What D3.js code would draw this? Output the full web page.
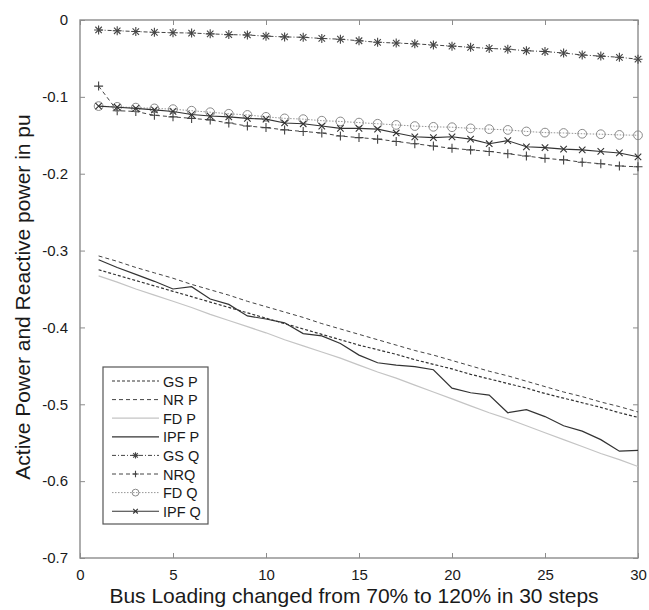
<!DOCTYPE html>
<html>
<head>
<meta charset="utf-8">
<script src="https://cdn.jsdelivr.net/npm/d3@7"></script>
<style>
  html, body { margin: 0; padding: 0; background: #fff; }
  svg { display: block; font-family: "Liberation Sans", Arial, sans-serif; }
</style>
</head>
<body>
<svg id="chart" width="649" height="610"></svg>
<script>
// ---------- DATA ----------
const steps = d3.range(1, 31);
const xTicks = [0, 5, 10, 15, 20, 25, 30];
const yTicks = [0, -0.1, -0.2, -0.3, -0.4, -0.5, -0.6, -0.7];

const gsP  = [-0.325, -0.332, -0.339, -0.346, -0.353, -0.360, -0.367, -0.374, -0.381, -0.388,
              -0.395, -0.402, -0.409, -0.416, -0.423, -0.429, -0.435, -0.442, -0.448, -0.454,
              -0.461, -0.467, -0.473, -0.479, -0.486, -0.492, -0.498, -0.504, -0.511, -0.517];
const nrP  = [-0.307, -0.314, -0.322, -0.329, -0.336, -0.344, -0.351, -0.358, -0.366, -0.373,
              -0.380, -0.387, -0.395, -0.402, -0.409, -0.416, -0.423, -0.430, -0.436, -0.443,
              -0.450, -0.457, -0.463, -0.470, -0.477, -0.484, -0.490, -0.497, -0.503, -0.510];
const fdP  = [-0.333, -0.341, -0.350, -0.358, -0.366, -0.374, -0.383, -0.391, -0.399, -0.407,
              -0.416, -0.424, -0.432, -0.440, -0.449, -0.458, -0.466, -0.475, -0.484, -0.493,
              -0.502, -0.511, -0.519, -0.528, -0.537, -0.546, -0.555, -0.564, -0.572, -0.581];
const ipfP = [-0.312, -0.322, -0.331, -0.340, -0.350, -0.347, -0.363, -0.370, -0.385, -0.389,
              -0.394, -0.408, -0.411, -0.421, -0.436, -0.446, -0.449, -0.451, -0.455, -0.479,
              -0.485, -0.488, -0.511, -0.507, -0.516, -0.528, -0.535, -0.546, -0.561, -0.560];
const gsQ  = [-0.013, -0.014, -0.015, -0.016, -0.0165, -0.017, -0.018, -0.019, -0.0195, -0.021,
              -0.022, -0.0225, -0.024, -0.025, -0.027, -0.029, -0.030, -0.031, -0.0325, -0.034,
              -0.0355, -0.037, -0.038, -0.040, -0.041, -0.043, -0.0455, -0.047, -0.0485, -0.051];
const nrQ  = [-0.086, -0.118, -0.119, -0.124, -0.126, -0.128, -0.130, -0.134, -0.138, -0.140,
              -0.143, -0.145, -0.147, -0.151, -0.153, -0.155, -0.158, -0.161, -0.164, -0.167,
              -0.169, -0.171, -0.174, -0.177, -0.180, -0.182, -0.185, -0.187, -0.190, -0.191];
const fdQ  = [-0.112, -0.113, -0.114, -0.115, -0.116, -0.118, -0.120, -0.122, -0.1235, -0.126,
              -0.128, -0.129, -0.131, -0.132, -0.1335, -0.135, -0.1365, -0.138, -0.139, -0.1395,
              -0.141, -0.142, -0.143, -0.145, -0.1465, -0.147, -0.148, -0.1486, -0.1495, -0.150];
const ipfQ = [-0.112, -0.1135, -0.115, -0.117, -0.119, -0.123, -0.125, -0.126, -0.128, -0.129,
              -0.134, -0.135, -0.138, -0.141, -0.141, -0.142, -0.147, -0.152, -0.153, -0.152,
              -0.155, -0.161, -0.157, -0.165, -0.166, -0.168, -0.169, -0.171, -0.173, -0.178];

const seriesNames = ["GS P", "NR P", "FD P", "IPF P", "GS Q", "NRQ", "FD Q", "IPF Q"];
const seriesValues = [gsP, nrP, fdP, ipfP, gsQ, nrQ, fdQ, ipfQ];

const xLabel = "Bus Loading changed from 70% to 120% in 30 steps";
const yLabel = "Active Power and Reactive power in pu";

// ---------- STYLES ----------
const styles = [
  { color: "#333",    dash: "3,2",   width: 1.2, marker: null },
  { color: "#444",    dash: "4,3",   width: 1.0, marker: null },
  { color: "#c4c4c4", dash: null,    width: 1.2, marker: null },
  { color: "#333",    dash: null,    width: 1.2, marker: null },
  { color: "#444",    dash: "4,2,1,2", width: 1.0, marker: "star" },
  { color: "#444",    dash: "4,3",   width: 1.0, marker: "plus" },
  { color: "#8a8a8a", dash: "1.5,1.5", width: 0.9, marker: "circle" },
  { color: "#333",    dash: null,    width: 1.1, marker: "cross" }
];

// ---------- LAYOUT ----------
const svg = d3.select("#chart");
const pLeft = 80, pRight = 638, pTop = 20, pBottom = 558;
const x = d3.scaleLinear().domain([0, 30]).range([pLeft, pRight]);
const y = d3.scaleLinear().domain([-0.7, 0]).range([pBottom, pTop]);
const axisColor = "#8c8c8c";
const textColor = "#1a1a1a";

// frame
svg.append("rect").attr("x", pLeft).attr("y", pTop)
  .attr("width", pRight - pLeft).attr("height", pBottom - pTop)
  .attr("fill", "none").attr("stroke", axisColor).attr("stroke-width", 1.4);

const fmtY = d => d === 0 ? "0" : d3.format(".1f")(d).replace("−", "-");

const gx = svg.append("g").attr("transform", `translate(0,${pBottom})`)
  .call(d3.axisBottom(x).tickValues(xTicks).tickSize(-5).tickPadding(11).tickFormat(d3.format("d")));
const gxt = svg.append("g").attr("transform", `translate(0,${pTop})`)
  .call(d3.axisTop(x).tickValues(xTicks).tickSize(-5).tickFormat(""));
const gy = svg.append("g").attr("transform", `translate(${pLeft},0)`)
  .call(d3.axisLeft(y).tickValues(yTicks).tickSize(-5).tickPadding(12).tickFormat(fmtY));
const gyr = svg.append("g").attr("transform", `translate(${pRight},0)`)
  .call(d3.axisRight(y).tickValues(yTicks).tickSize(-5).tickFormat(""));

[gx, gxt, gy, gyr].forEach(g => {
  g.select(".domain").remove();
  g.selectAll(".tick line").attr("stroke", axisColor);
  g.selectAll("text").attr("fill", textColor).style("font-size", "15px")
    .style("font-family", "'Liberation Sans', Arial, sans-serif");
});

// axis titles
svg.append("text").attr("x", 354).attr("y", 603)
  .attr("text-anchor", "middle").style("font-size", "21px").attr("fill", textColor)
  .text(xLabel);
svg.append("text").attr("transform", `translate(30,297) rotate(-90)`)
  .attr("text-anchor", "middle").style("font-size", "21px").attr("fill", textColor)
  .text(yLabel);

// ---------- MARKERS ----------
function drawMarker(g, type, cx, cy, color, s) {
  if (type === "circle") {
    g.append("circle").attr("cx", cx).attr("cy", cy).attr("r", s * 0.95)
      .attr("fill", "none").attr("stroke", color).attr("stroke-width", 1);
  } else if (type === "plus" || type === "star") {
    g.append("path").attr("d", `M${cx - s},${cy}H${cx + s}M${cx},${cy - s}V${cy + s}`)
      .attr("stroke", color).attr("stroke-width", 1.1);
  }
  if (type === "cross" || type === "star") {
    const k = s * 0.72;
    g.append("path").attr("d", `M${cx - k},${cy - k}L${cx + k},${cy + k}M${cx - k},${cy + k}L${cx + k},${cy - k}`)
      .attr("stroke", color).attr("stroke-width", 1.1);
  }
}

// ---------- LINES ----------
const line = d3.line().x((d, i) => x(steps[i])).y(d => y(d));
const plot = svg.append("g");
seriesValues.forEach((vals, si) => {
  const st = styles[si];
  plot.append("path").datum(vals).attr("d", line)
    .attr("fill", "none").attr("stroke", st.color).attr("stroke-width", st.width)
    .attr("stroke-dasharray", st.dash);
  if (st.marker) {
    const mg = plot.append("g");
    vals.forEach((v, i) => {
      const s = st.marker === "circle" ? 4.6 : 4.5;
      drawMarker(mg, st.marker, x(steps[i]), y(v), st.color, s);
    });
  }
});

// ---------- LEGEND ----------
const lg = svg.append("g");
lg.append("rect").attr("x", 103).attr("y", 367).attr("width", 105).attr("height", 157)
  .attr("fill", "#fff").attr("stroke", "#555").attr("stroke-width", 1.2);
seriesNames.forEach((name, i) => {
  const st = styles[i];
  const ly = 381 + i * 18.6;
  lg.append("line").attr("x1", 112).attr("x2", 159).attr("y1", ly).attr("y2", ly)
    .attr("stroke", st.color).attr("stroke-width", st.width).attr("stroke-dasharray", st.dash);
  if (st.marker) drawMarker(lg, st.marker, 135.5, ly, st.color, st.marker === "circle" ? 3.6 : 3.2);
  lg.append("text").attr("x", 163).attr("y", ly + 5.5).style("font-size", "14.5px")
    .attr("fill", textColor).text(name);
});
</script>
</body>
</html>
